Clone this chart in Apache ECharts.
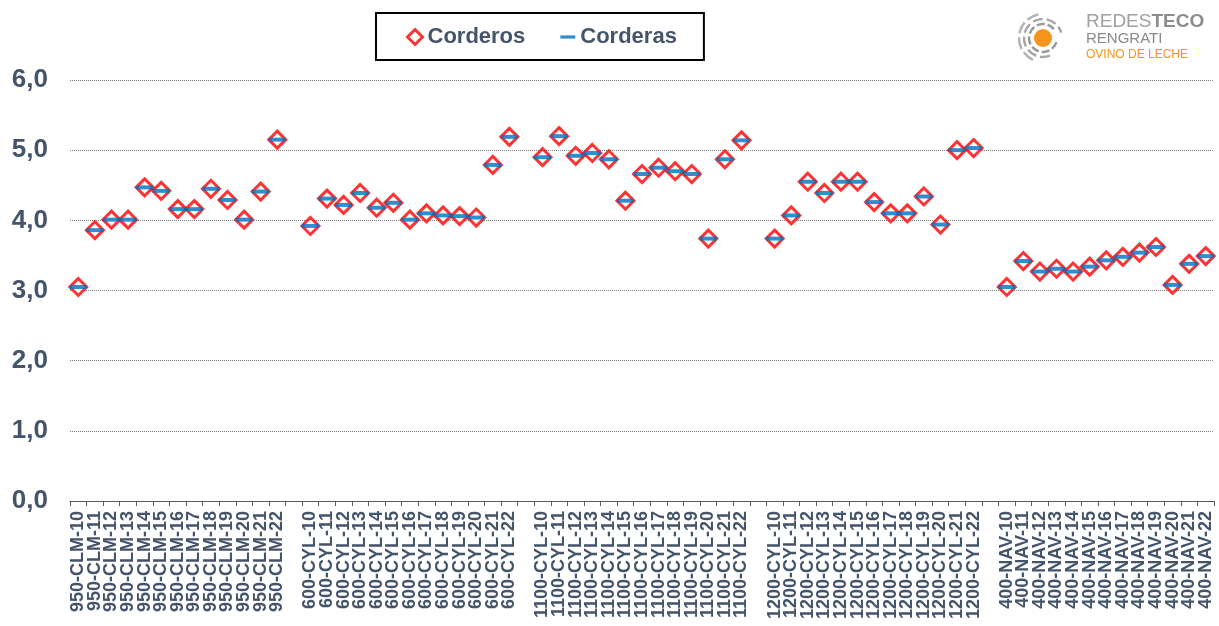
<!DOCTYPE html>
<html>
<head>
<meta charset="utf-8">
<script src="https://cdn.jsdelivr.net/npm/echarts@6/dist/echarts.min.js"></script>
<style>
  html, body { margin: 0; padding: 0; background: #fff; }
  #chart { width: 1219px; height: 626px; }
</style>
</head>
<body>
<div id="chart"></div>
<script>
// groups of farms, 13 seasons each (10..22)
var seasons = ['10','11','12','13','14','15','16','17','18','19','20','21','22'];
var groups = ['950-CLM', '600-CYL', '1100-CYL', '1200-CYL', '400-NAV'];

// Corderos (diamonds)
var corderosCLM950  = [3.05, 3.86, 4.01, 4.01, 4.47, 4.42, 4.16, 4.16, 4.45, 4.29, 4.01, 4.41, 5.15];
var corderosCYL600  = [3.92, 4.31, 4.22, 4.39, 4.18, 4.25, 4.01, 4.10, 4.07, 4.06, 4.04, 4.79, 5.19];
var corderosCYL1100 = [4.90, 5.20, 4.92, 4.96, 4.87, 4.28, 4.66, 4.75, 4.70, 4.66, 3.74, 4.87, 5.14];
var corderosCYL1200 = [3.74, 4.07, 4.55, 4.39, 4.55, 4.55, 4.26, 4.10, 4.10, 4.34, 3.94, 5.00, 5.03];
var corderosNAV400  = [3.05, 3.42, 3.27, 3.31, 3.27, 3.34, 3.43, 3.48, 3.54, 3.62, 3.08, 3.38, 3.49];

// Corderas (dashes)
var corderasCLM950  = [3.05, 3.86, 4.01, 4.01, 4.47, 4.42, 4.16, 4.16, 4.45, 4.29, 4.01, 4.41, 5.15];
var corderasCYL600  = [3.92, 4.31, 4.22, 4.39, 4.18, 4.25, 4.01, 4.10, 4.07, 4.06, 4.04, 4.79, 5.19];
var corderasCYL1100 = [4.90, 5.20, 4.92, 4.96, 4.87, 4.28, 4.66, 4.75, 4.70, 4.66, 3.74, 4.87, 5.14];
var corderasCYL1200 = [3.74, 4.07, 4.55, 4.39, 4.55, 4.55, 4.26, 4.10, 4.10, 4.34, 3.94, 5.00, 5.03];
var corderasNAV400  = [3.05, 3.42, 3.27, 3.31, 3.27, 3.34, 3.43, 3.48, 3.54, 3.62, 3.08, 3.38, 3.49];

var yTicks = [0, 1, 2, 3, 4, 5, 6];

// join groups with an empty category in between
function joinGroups(parts, blank) {
  var out = [];
  parts.forEach(function (p, i) {
    if (i > 0) out.push(blank);
    out = out.concat(p);
  });
  return out;
}

var categories = joinGroups(groups.map(function (g) {
  return seasons.map(function (s) { return g + '-' + s; });
}), '');
var corderos = joinGroups([corderosCLM950, corderosCYL600, corderosCYL1100, corderosCYL1200, corderosNAV400], '-');
var corderas = joinGroups([corderasCLM950, corderasCYL600, corderasCYL1100, corderasCYL1200, corderasNAV400], '-');

var txt = '#44546a';
var myChart = echarts.init(document.getElementById('chart'));

var option = {
  animation: false,
  backgroundColor: '#fff',
  textStyle: { fontFamily: 'Liberation Sans, Arial, sans-serif' },
  legend: {
    left: 376,
    top: 13,
    padding: [13, 27, 12, 30],
    itemGap: 35,
    itemWidth: 15,
    itemHeight: 15,
    itemTextGap: 4,
    borderColor: '#000',
    borderWidth: 2,
    backgroundColor: '#fff',
    textStyle: { color: txt, fontSize: 22, fontWeight: 'bold' },
    data: [
      { name: 'Corderos', icon: 'diamond', itemStyle: { borderWidth: 3 } },
      { name: 'Corderas', icon: 'path://M0,6H14V9H0Z' }
    ]
  },
  grid: { left: 70, right: 5, top: 80, bottom: 125, containLabel: false },
  xAxis: {
    type: 'category',
    data: categories,
    boundaryGap: true,
    axisLine: { lineStyle: { color: '#595959', width: 1 } },
    axisTick: { show: true, interval: 0, length: 5, lineStyle: { color: '#595959' } },
    axisLabel: {
      interval: 0,
      rotate: 90,
      margin: 10,
      color: txt,
      fontSize: 18,
      fontWeight: 'bold'
    }
  },
  yAxis: {
    type: 'value',
    min: yTicks[0],
    max: yTicks[yTicks.length - 1],
    interval: 1,
    axisLine: { show: false },
    axisTick: { show: false },
    axisLabel: {
      margin: 22,
      color: txt,
      fontSize: 26,
      fontWeight: 'bold',
      formatter: function (v) { return v.toFixed(1).replace('.', ','); }
    },
    splitLine: { lineStyle: { color: '#7f7f7f', type: [1, 1], width: 1 } }
  },
  series: [
    {
      name: 'Corderos',
      type: 'scatter',
      data: corderos,
      symbol: 'diamond',
      symbolSize: [17, 17],
      itemStyle: { color: '#fff', borderColor: '#ff0000', borderWidth: 3 },
      z: 2
    },
    {
      name: 'Corderas',
      type: 'scatter',
      data: corderas,
      symbol: 'rect',
      symbolSize: [17, 4],
      itemStyle: { color: '#0070c0' },
      z: 3
    }
  ],
  graphic: [
    // logo
    { type: 'circle', shape: { cx: 1043, cy: 38, r: 9 }, style: { fill: '#f7941d' } },
    { type: 'arc', shape: { cx: 1043, cy: 38, r: 14, startAngle: 0.3, endAngle: 5.6 }, style: { stroke: '#9a9a9a', lineWidth: 2.5, fill: null, lineDash: [8, 3] } },
    { type: 'arc', shape: { cx: 1043, cy: 38, r: 19, startAngle: 1.2, endAngle: 6.0 }, style: { stroke: '#a6a6a6', lineWidth: 2.5, fill: null, lineDash: [10, 4] } },
    { type: 'arc', shape: { cx: 1043, cy: 38, r: 24, startAngle: 2.0, endAngle: 4.6 }, style: { stroke: '#b3b3b3', lineWidth: 2.5, fill: null, lineDash: [12, 4] } },
    {
      type: 'text', left: 1086, top: 12,
      style: {
        text: '{a|REDES}{b|TECO}',
        rich: {
          a: { fontSize: 19, fill: '#a0a0a0', fontFamily: 'Liberation Sans' },
          b: { fontSize: 19, fill: '#8c8c8c', fontWeight: 'bold', fontFamily: 'Liberation Sans' }
        }
      }
    },
    { type: 'text', left: 1086, top: 31, style: { text: 'RENGRATI', fontSize: 15, fill: '#8a8a8a', fontFamily: 'Liberation Sans' } },
    { type: 'text', left: 1086, top: 49, style: { text: 'OVINO DE LECHE', fontSize: 12, fill: '#f7941d', fontFamily: 'Liberation Sans' } }
  ]
};

myChart.setOption(option);
</script>
</body>
</html>
